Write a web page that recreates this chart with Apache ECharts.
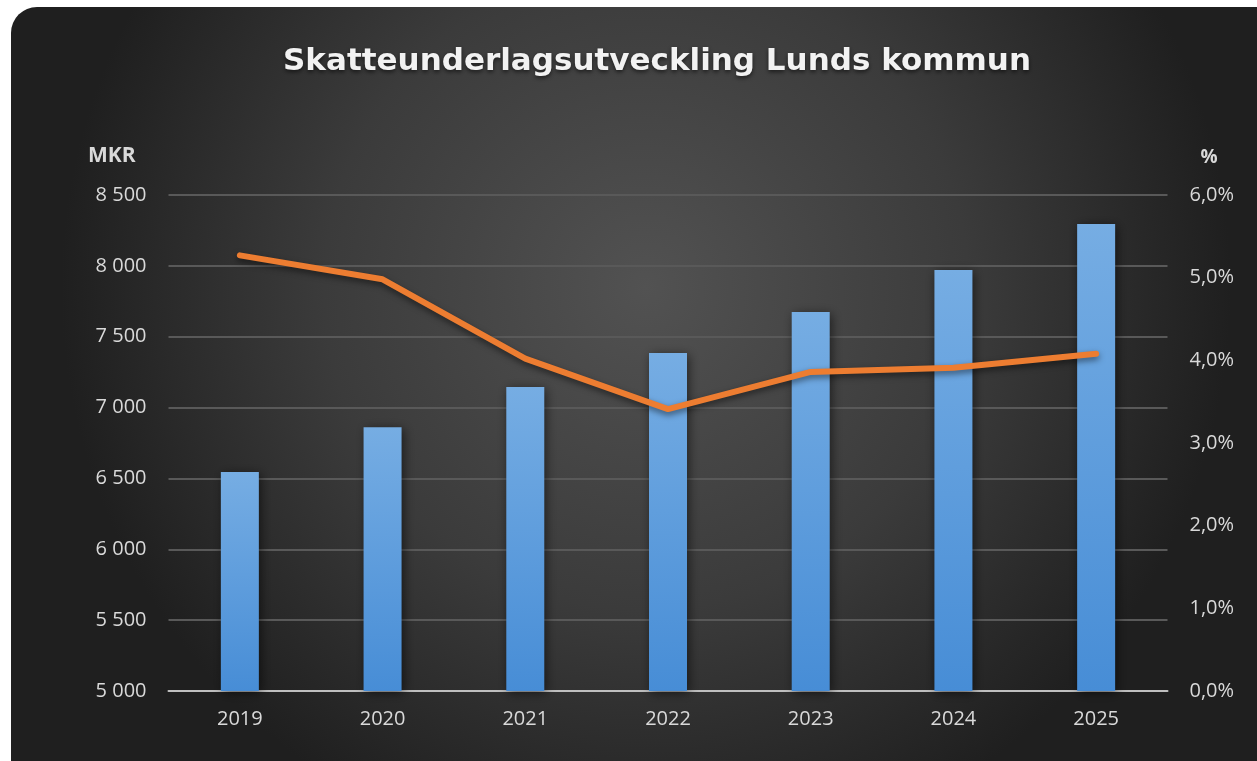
<!DOCTYPE html>
<html>
<head>
<meta charset="utf-8">
<script src="https://cdn.jsdelivr.net/npm/echarts@6/dist/echarts.min.js"></script>
<style>
html,body{margin:0;padding:0;background:#ffffff;}
#chart{width:1257px;height:761px;}
</style>
</head>
<body>
<div id="chart"></div>
<script>
const titleText = 'Skatteunderlagsutveckling Lunds kommun';
const years = ['2019','2020','2021','2022','2023','2024','2025'];
const taxBase = [6545, 6862, 7145, 7385, 7674, 7970, 8295];      // MKR
const growthPct = [5.27, 4.98, 4.02, 3.41, 3.86, 3.91, 4.08];     // %
const leftAxisName = 'MKR';
const rightAxisName = '%';

const chart = echarts.init(document.getElementById('chart'), null, {renderer:'canvas'});
const labelColor = '#d9d9d9';
const fontFam = '"Open Sans", Lato, sans-serif';

const option = {
  backgroundColor: '#ffffff',
  animation: false,
  graphic: [{
    type: 'rect',
    z: -10,
    silent: true,
    shape: {x: 11, y: 7, width: 1270, height: 780, r: 26},
    style: {
      fill: new echarts.graphic.RadialGradient(0.5, 0.36, 0.75, [
        {offset: 0, color: '#525252'},
        {offset: 0.55, color: '#3b3b3b'},
        {offset: 1, color: '#1f1f1f'}
      ])
    }
  }],
  title: {
    text: titleText,
    left: 652,
    top: 41,
    textAlign: 'center',
    textStyle: {
      color: '#f2f2f2',
      fontFamily: '"DejaVu Sans", sans-serif',
      fontWeight: 'bold',
      fontSize: 31,
      textShadowColor: 'rgba(0,0,0,0.6)',
      textShadowBlur: 4,
      textShadowOffsetY: 2
    }
  },
  grid: {left: 168.5, right: 89.5, top: 195, bottom: 70, containLabel: false},
  xAxis: {
    type: 'category',
    data: years,
    axisLine: {lineStyle: {color: '#bfbfbf', width: 2}},
    axisTick: {show: false},
    axisLabel: {color: labelColor, fontSize: 20, fontFamily: fontFam, margin: 18}
  },
  yAxis: [{
    type: 'value',
    min: 5000, max: 8500, interval: 500,
    name: leftAxisName,
    nameLocation: 'end',
    nameGap: 28,
    nameTextStyle: {color: labelColor, fontSize: 21, fontWeight: 'bold', fontFamily: fontFam, align: 'right', padding: [0, 33, 0, 0]},
    axisLine: {show: false},
    axisTick: {show: false},
    axisLabel: {
      color: labelColor, fontSize: 20, fontFamily: fontFam, margin: 22,
      formatter: v => String(v).replace(/\B(?=(\d{3})+(?!\d))/g, ' ')
    },
    splitLine: {lineStyle: {color: '#595959', width: 2}}
  }, {
    type: 'value',
    min: 0, max: 6, interval: 1,
    name: rightAxisName,
    nameLocation: 'end',
    nameGap: 28,
    nameTextStyle: {color: labelColor, fontSize: 19, fontWeight: 'bold', fontFamily: fontFam, align: 'left', padding: [0, 0, 0, 33]},
    axisLine: {show: false},
    axisTick: {show: false},
    axisLabel: {
      color: labelColor, fontSize: 20, fontFamily: fontFam, margin: 22,
      formatter: v => v.toFixed(1).replace('.', ',') + '%'
    },
    splitLine: {show: false}
  }],
  series: [{
    type: 'bar',
    yAxisIndex: 0,
    data: taxBase,
    barWidth: 38,
    itemStyle: {
      color: new echarts.graphic.LinearGradient(0, 0, 0, 1, [
        {offset: 0, color: '#76ade3'},
        {offset: 1, color: '#478dd6'}
      ]),
      shadowColor: 'rgba(0,0,0,0.55)',
      shadowBlur: 10,
      shadowOffsetX: 2,
      shadowOffsetY: 2
    }
  }, {
    type: 'line',
    yAxisIndex: 1,
    data: growthPct,
    symbol: 'none',
    lineStyle: {
      color: '#ed7d31', width: 6, cap: 'round', join: 'round',
      shadowColor: 'rgba(0,0,0,0.5)', shadowBlur: 6, shadowOffsetY: 3
    },
    z: 5
  }]
};
chart.setOption(option);
</script>
</body>
</html>
